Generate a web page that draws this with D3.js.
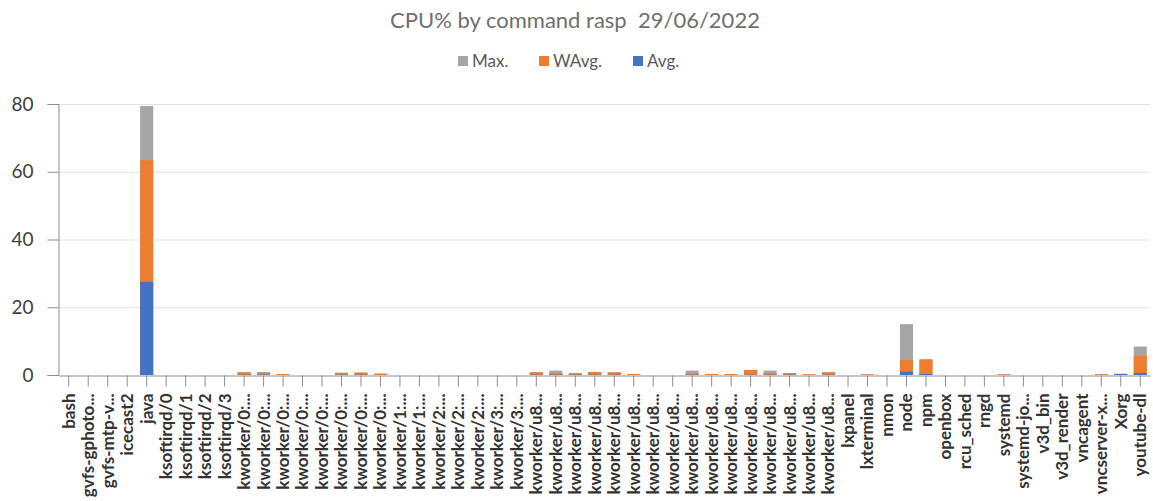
<!DOCTYPE html>
<html>
<head>
<meta charset="utf-8">
<script src="https://cdn.jsdelivr.net/npm/d3@7"></script>
<style>
  html, body { margin: 0; padding: 0; background: #ffffff; }
  svg { display: block; }
  .title { white-space: pre; }
</style>
</head>
<body>
<svg id="chart" width="1153" height="501"></svg>
<script>
// Commands (category axis labels, already shortened as displayed)
const commands = [
  "bash", "gvfs-gphoto...", "gvfs-mtp-v...", "icecast2", "java",
  "ksoftirqd/0", "ksoftirqd/1", "ksoftirqd/2", "ksoftirqd/3",
  "kworker/0:...", "kworker/0:...", "kworker/0:...", "kworker/0:...",
  "kworker/0:...", "kworker/0:...", "kworker/0:...", "kworker/0:...",
  "kworker/1:...", "kworker/1:...",
  "kworker/2:...", "kworker/2:...", "kworker/2:...",
  "kworker/3:...", "kworker/3:...",
  "kworker/u8...", "kworker/u8...", "kworker/u8...", "kworker/u8...",
  "kworker/u8...", "kworker/u8...", "kworker/u8...", "kworker/u8...",
  "kworker/u8...", "kworker/u8...", "kworker/u8...", "kworker/u8...",
  "kworker/u8...", "kworker/u8...", "kworker/u8...", "kworker/u8...",
  "lxpanel", "lxterminal", "nmon", "node", "npm", "openbox",
  "rcu_sched", "rngd", "systemd", "systemd-jo...", "v3d_bin",
  "v3d_render", "vncagent", "vncserver-x...", "Xorg", "youtube-dl"
];

// CPU% per command: maximum, weighted average, average
const maxValues = [
  0, 0, 0, 0, 79.4,
  0, 0, 0, 0,
  0.8, 0.9, 0.3, 0, 0, 0.7, 0.7, 0.4,
  0, 0,
  0, 0, 0,
  0, 0,
  0.8, 1.3, 0.5, 0.9, 0.8, 0.3, 0, 0, 1.3, 0.3, 0.3, 1.5, 1.3, 0.6, 0.2, 0.8,
  0, 0.2, 0, 15.0, 4.6, 0,
  0, 0, 0.2, 0, 0,
  0, 0, 0.3, 0.4, 8.4
];
const wavgValues = [
  0, 0, 0, 0, 63.4,
  0, 0, 0, 0,
  0.8, 0.6, 0.3, 0, 0, 0.5, 0.7, 0.4,
  0, 0,
  0, 0, 0,
  0, 0,
  0.8, 0.5, 0.5, 0.9, 0.8, 0.3, 0, 0, 0.4, 0.3, 0.3, 1.5, 0.5, 0.6, 0.2, 0.8,
  0, 0.2, 0, 4.4, 4.6, 0,
  0, 0, 0.2, 0, 0,
  0, 0, 0.2, 0.2, 5.6
];
const avgValues = [
  0, 0, 0, 0, 27.5,
  0, 0, 0, 0,
  0.1, 0.1, 0, 0, 0, 0.1, 0.1, 0,
  0, 0,
  0, 0, 0,
  0, 0,
  0.1, 0.1, 0.1, 0.1, 0.1, 0, 0, 0, 0.1, 0, 0, 0.1, 0.1, 0.1, 0, 0.1,
  0, 0, 0, 1.0, 0.3, 0,
  0, 0, 0, 0, 0,
  0, 0, 0, 0.3, 0.6
];

const seriesNames = ["Max.", "WAvg.", "Avg."];
const yTicks = [0, 20, 40, 60, 80];
const titleText = "CPU% by command rasp  29/06/2022";

const series = [
  { name: seriesNames[0], values: maxValues, color: "#A5A5A5" },
  { name: seriesNames[1], values: wavgValues, color: "#ED7D31" },
  { name: seriesNames[2], values: avgValues, color: "#4472C4" }
];

const svg = d3.select("#chart");
const font = "Lato, 'Open Sans', sans-serif";

const plot = { left: 59, right: 1150, top: 104, bottom: 375 };

const x = d3.scaleBand()
  .domain(d3.range(commands.length))
  .range([plot.left, plot.right])
  .padding(0);

const y = d3.scaleLinear()
  .domain([0, 80])
  .range([plot.bottom, plot.top]);

// Title
svg.append("text")
  .attr("class", "title")
  .attr("x", 575)
  .attr("y", 28)
  .attr("text-anchor", "middle")
  .attr("font-family", font)
  .attr("font-size", 22)
  .attr("fill", "#6f6f6f")
  .text(titleText);

// Legend
const legendItems = [
  { x: 458, s: series[0] },
  { x: 539, s: series[1] },
  { x: 633, s: series[2] }
];
const legend = svg.append("g");
legendItems.forEach(d => {
  legend.append("rect")
    .attr("x", d.x).attr("y", 56)
    .attr("width", 10).attr("height", 10)
    .attr("fill", d.s.color);
  legend.append("text")
    .attr("x", d.x + 14).attr("y", 67)
    .attr("font-family", font)
    .attr("font-size", 17)
    .attr("fill", "#595959")
    .text(d.s.name);
});

// Gridlines
svg.append("g")
  .selectAll("line")
  .data(yTicks.filter(t => t > 0))
  .join("line")
  .attr("x1", plot.left).attr("x2", plot.right)
  .attr("y1", d => y(d) + 0.5).attr("y2", d => y(d) + 0.5)
  .attr("stroke", "#e3e3e3").attr("stroke-width", 1);

// Bars: overlapping columns, Max at the back, Avg in front
const bw = x.bandwidth() * 0.67;
series.forEach(s => {
  svg.append("g")
    .selectAll("rect")
    .data(s.values.map((v, i) => ({ i, v })))
    .join("rect")
    .attr("x", d => x(d.i) + (x.bandwidth() - bw) / 2)
    .attr("width", bw)
    .attr("y", d => y(d.v))
    .attr("height", d => y(0) - y(d.v))
    .attr("fill", s.color);
});

// Y axis
const yAxis = d3.axisLeft(y)
  .tickValues(yTicks)
  .tickSize(11)
  .tickPadding(14)
  .tickFormat(d3.format("d"));
const yg = svg.append("g")
  .attr("transform", `translate(${plot.left - 0.5},0)`)
  .call(yAxis);
yg.select(".domain").attr("stroke", "#8c8c8c");
yg.selectAll(".tick line").attr("stroke", "#8c8c8c");
yg.selectAll(".tick text")
  .attr("font-family", font)
  .attr("font-size", 19)
  .attr("fill", "#404040");

// X axis
const xAxis = d3.axisBottom(x)
  .tickSize(11)
  .tickSizeOuter(0)
  .tickFormat(i => commands[i]);
const xg = svg.append("g")
  .attr("transform", `translate(0,${plot.bottom + 0.5})`)
  .call(xAxis);
xg.select(".domain").attr("stroke", "#8c8c8c");
xg.selectAll(".tick line").attr("stroke", "#8c8c8c");
xg.selectAll(".tick text")
  .attr("font-family", font)
  .attr("font-size", 17)
  .attr("font-weight", "bold")
  .attr("fill", "#333333")
  .attr("text-anchor", "end")
  .attr("transform", "rotate(-90)")
  .attr("x", -18)
  .attr("y", 0)
  .attr("dy", "0.35em");
</script>
</body>
</html>
